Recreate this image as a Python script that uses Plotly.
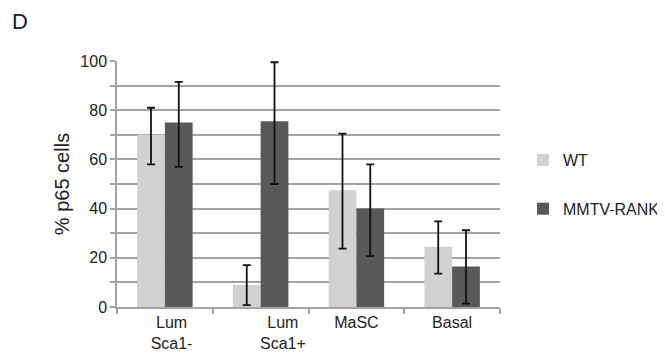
import plotly.graph_objects as go

categories = ["Lum Sca1-", "Lum Sca1+", "MaSC", "Basal"]
NB = "\u00a0"
tick_labels = [NB * 3 + "Lum<br>" + NB * 3 + "Sca1-",
               NB * 10 + "Lum<br>" + NB * 10 + "Sca1+",
               "MaSC", "Basal"]

wt_values = [70, 9, 47.5, 24.5]
wt_upper = [81, 17, 70.5, 34.8]
wt_lower = [58, 0.8, 23.7, 13.6]

rank_values = [75, 75.5, 40, 16.5]
rank_upper = [91.5, 99.5, 58, 31.2]
rank_lower = [57, 50, 20.7, 1.4]

y_ticks = [0, 20, 40, 60, 80, 100]

FONT = "Liberation Sans, Arial, sans-serif"
TXT = "#222222"
GRID = "#a3a3a3"

def err(vals, hi, lo):
    return dict(type="data", symmetric=False,
                array=[h - v for v, h in zip(vals, hi)],
                arrayminus=[v - l for v, l in zip(vals, lo)],
                color="#111111", thickness=1.8, width=4)

fig = go.Figure()
fig.add_trace(go.Bar(x=categories, y=wt_values, name="WT", legendgroup="a",
                     marker=dict(color="#d1d2d4", line=dict(width=0)),
                     error_y=err(wt_values, wt_upper, wt_lower)))
fig.add_trace(go.Bar(x=categories, y=rank_values, name="MMTV-RANK", legendgroup="b",
                     marker=dict(color="#58595b", line=dict(width=0)),
                     error_y=err(rank_values, rank_upper, rank_lower)))

OFF = 8  # default page body margin
W, H = 665 - OFF, 364 - OFF
L, T = 117 - OFF, 61 - OFF
R = W - (500 - OFF)
B = H - (307 - OFF)
plot_w = W - L - R
plot_h = H - T - B

fig.update_layout(
    width=W, height=H,
    margin=dict(l=L, r=R, t=T, b=B, autoexpand=False),
    paper_bgcolor="white", plot_bgcolor="white",
    barmode="group", bargap=0.42, bargroupgap=0,
    font=dict(family=FONT, size=16, color=TXT),
    title=dict(text="D", font=dict(size=22, color=TXT), xref="container", yref="container",
               x=4 / W, xanchor="left", y=1 - 6 / H, yanchor="top"),
    legend=dict(xref="container", x=1, xanchor="right",
                y=(H - B - (143 - OFF)) / plot_h, yanchor="top",
                traceorder="grouped", tracegroupgap=25,
                font=dict(size=16, color=TXT), bgcolor="rgba(0,0,0,0)"),
    xaxis=dict(tickmode="array", tickvals=categories, ticktext=tick_labels,
               tickangle=0, automargin=False,
               showline=True, linecolor=GRID, linewidth=1.5,
               ticks="outside", tickson="boundaries", ticklen=5, tickcolor=GRID, tickwidth=1.5,
               showgrid=False, tickfont=dict(size=16, color=TXT)),
    yaxis=dict(range=[0, 100], tickvals=y_ticks, automargin=False,
               showline=True, linecolor=GRID, linewidth=1.5,
               ticks="outside", ticklen=5, tickcolor=GRID, tickwidth=1.5,
               showgrid=True, gridcolor=GRID, gridwidth=1.5, zeroline=False,
               minor=dict(dtick=10, ticks="outside", ticklen=5, tickcolor=GRID, tickwidth=1.5,
                          showgrid=True, gridcolor=GRID, gridwidth=1.5),
               title=dict(text="% p65 cells", font=dict(size=20, color=TXT), standoff=5),
               tickfont=dict(size=16, color=TXT)),
)

fig.write_html("out.html")
